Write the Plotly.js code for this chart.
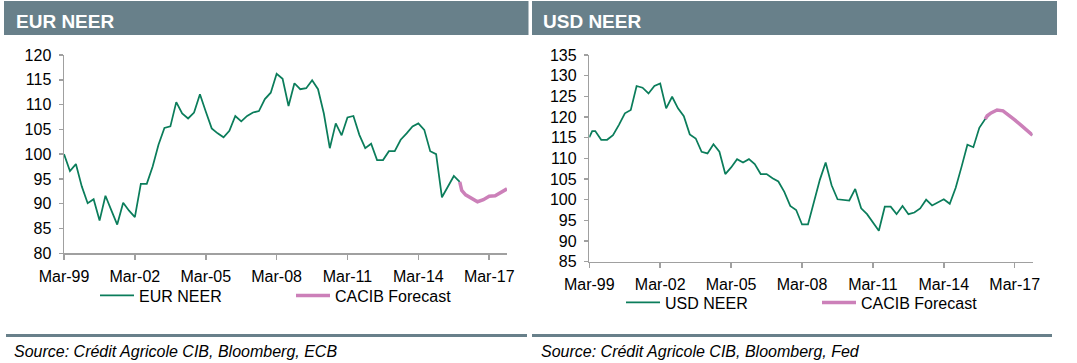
<!DOCTYPE html>
<html><head><meta charset="utf-8">
<script src="https://cdn.plot.ly/plotly-3.0.1.min.js"></script>
<style>html,body{margin:0;padding:0;background:#fff;overflow:hidden;}#chart{width:1077px;height:363px;}</style>
</head><body><div id="chart"></div>
<script>
const W = 1077, H = 363;

// ---- data (quarterly, first point Mar-99) ----
const eurNeer = [100.0, 96.6, 98.0, 93.5, 90.1, 90.9, 86.6, 91.6, 88.7, 85.8,
  90.2, 88.6, 87.3, 94.0, 94.0, 97.5, 101.9, 105.3, 105.6, 110.5,
  108.2, 107.2, 108.4, 112.1, 108.6, 105.2, 104.2, 103.4, 104.7, 107.7,
  106.6, 107.7, 108.4, 108.7, 111.1, 112.4, 116.2, 115.2, 109.7, 114.3,
  113.1, 113.3, 114.9, 113.1, 108.2, 101.2, 106.2, 103.8, 107.4, 107.7,
  103.9, 101.2, 102.1, 98.8, 98.8, 100.6, 100.6, 102.9, 104.2, 105.6,
  106.2, 104.9, 100.6, 100.0, 91.3, 93.5, 95.6, 94.4];
const forecastDates = ['2015-12-01', '2016-01-01', '2016-03-01', '2016-06-01', '2016-09-01',
  '2016-12-01', '2017-03-01', '2017-06-01', '2017-09-01', '2017-12-01'];
const eurForecast = [94.4, 92.7, 91.8, 91.0, 90.4, 90.8, 91.5, 91.6, 92.3, 93.0];

// USD has one extra intra-quarter point (Apr-99) after the first value
const usdExtraDate = '1999-04-15';
const usdNeer = [115.1, 116.6, 116.6, 114.5, 114.5, 115.6, 118.1, 120.9, 121.7, 127.5,
  127.1, 125.7, 127.5, 128.1, 122.1, 124.9, 122.1, 120.2, 115.8, 114.8,
  111.6, 111.2, 113.4, 111.6, 106.2, 107.8, 109.8, 109.0, 109.8, 108.6,
  106.2, 106.2, 105.2, 104.4, 101.9, 98.5, 97.5, 94.0, 94.0, 99.5,
  104.8, 109.0, 103.5, 100.1, 100.0, 99.8, 102.6, 97.9, 96.5, 94.5,
  92.5, 98.3, 98.3, 96.5, 98.5, 96.5, 96.9, 97.9, 100.0, 98.6,
  99.4, 100.1, 99.0, 102.9, 108.0, 113.3, 112.7, 117.4, 119.5];
const usdForecast = [119.5, 120.3, 121.0, 121.7, 121.5, 120.5, 119.3, 118.1, 116.9, 115.6];

const titles = ['EUR NEER', 'USD NEER'];
const sources = ['Source: Crédit Agricole CIB, Bloomberg, ECB', 'Source: Crédit Agricole CIB, Bloomberg, Fed'];
const seriesNames = ['EUR NEER', 'USD NEER', 'CACIB Forecast'];

function quarterDates(n) {
  const out = [];
  for (let i = 0; i < n; i++) {
    const mIdx = 2 + 3 * i; // March 1999 = index 2
    const y = 1999 + Math.floor(mIdx / 12);
    const m = (mIdx % 12) + 1;
    out.push(y + '-' + String(m).padStart(2, '0') + '-01');
  }
  return out;
}
const eurDates = quarterDates(eurNeer.length);
const usdDates = quarterDates(usdNeer.length - 1);
usdDates.splice(1, 0, usdExtraDate);

const GREEN = '#0b7d5b', PINK = '#cc80b9', BAR = '#68808a', AXC = '#a0a0a0';
const FONT = 'Liberation Sans, Arial, sans-serif';
const px = x => x / W, py = y => 1 - y / H;

const traces = [
  {x: eurDates, y: eurNeer, name: seriesNames[0], type: 'scatter', mode: 'lines',
   line: {color: GREEN, width: 1.75}, xaxis: 'x', yaxis: 'y', legend: 'legend'},
  {x: forecastDates, y: eurForecast, name: seriesNames[2], type: 'scatter', mode: 'lines',
   line: {color: PINK, width: 3.5}, xaxis: 'x', yaxis: 'y', legend: 'legend'},
  {x: usdDates.concat(forecastDates.slice(2)), y: usdNeer.concat(usdForecast.slice(2)), name: seriesNames[1], type: 'scatter', mode: 'lines',
   line: {color: GREEN, width: 1.75}, xaxis: 'x2', yaxis: 'y2', legend: 'legend2'},
  {x: forecastDates, y: usdForecast, name: seriesNames[2], type: 'scatter', mode: 'lines',
   line: {color: PINK, width: 3.5}, xaxis: 'x2', yaxis: 'y2', legend: 'legend2'}
];

function xax(domain, anchor) {
  return {domain: domain, anchor: anchor, type: 'date', range: ['1999-03-01', '2017-12-01'],
    tick0: '1999-03-01', dtick: 'M36', tickformat: '%b-%y',
    ticks: 'outside', ticklen: 5, tickwidth: 1.5, tickcolor: AXC,
    showline: true, linecolor: AXC, linewidth: 1.5, showgrid: false, zeroline: false,
    tickfont: {family: FONT, size: 16, color: '#000'}, ticklabelstandoff: 3, fixedrange: true};
}
function yax(domain, anchor, range) {
  return {domain: domain, anchor: anchor, range: range, tick0: range[0], dtick: 5,
    ticks: 'outside', ticklen: 4, tickwidth: 1.5, tickcolor: AXC,
    showline: true, linecolor: AXC, linewidth: 1.5, showgrid: false, zeroline: false,
    tickfont: {family: FONT, size: 16, color: '#000'}, ticklabelstandoff: 4, fixedrange: true};
}
function leg(x, y) {
  return {orientation: 'h', x: px(x), y: py(y), xanchor: 'left', yanchor: 'middle',
    font: {family: FONT, size: 16, color: '#000'}, bgcolor: 'rgba(0,0,0,0)', borderwidth: 0,
    entrywidth: 147, entrywidthmode: 'pixels', itemwidth: 34, traceorder: 'normal'};
}

const layout = {
  width: W, height: H, autosize: false,
  margin: {l: 0, r: 0, t: 0, b: 0, pad: 0},
  paper_bgcolor: '#fff', plot_bgcolor: 'rgba(0,0,0,0)',
  font: {family: FONT, size: 16, color: '#000'},
  xaxis: xax([px(64), px(507)], 'y'),
  yaxis: yax([py(253.3), py(55)], 'x', [80, 120]),
  xaxis2: xax([px(589.3), px(1032.5)], 'y2'),
  yaxis2: yax([py(261.7), py(55)], 'x2', [85, 135]),
  legend: leg(95, 295.5),
  legend2: leg(621, 302.5),
  shapes: [
    {type: 'rect', xref: 'paper', yref: 'paper', x0: px(4), x1: px(528.5), y0: py(35), y1: py(1), fillcolor: BAR, line: {width: 0}, layer: 'below'},
    {type: 'rect', xref: 'paper', yref: 'paper', x0: px(532), x1: px(1057), y0: py(35), y1: py(1), fillcolor: BAR, line: {width: 0}, layer: 'below'},
    {type: 'line', xref: 'paper', yref: 'paper', x0: px(6), x1: px(527), y0: py(335.5), y1: py(335.5), line: {color: BAR, width: 3}},
    {type: 'line', xref: 'paper', yref: 'paper', x0: px(532), x1: px(1052), y0: py(335.5), y1: py(335.5), line: {color: BAR, width: 3}}
  ],
  annotations: [
    {text: '<b>' + titles[0] + '</b>', xref: 'paper', yref: 'paper', x: px(14), y: py(21), xanchor: 'left', yanchor: 'middle', showarrow: false, font: {family: FONT, size: 19, color: '#fff'}},
    {text: '<b>' + titles[1] + '</b>', xref: 'paper', yref: 'paper', x: px(541), y: py(21), xanchor: 'left', yanchor: 'middle', showarrow: false, font: {family: FONT, size: 19, color: '#fff'}},
    {text: '<i>' + sources[0] + '</i>', xref: 'paper', yref: 'paper', x: px(12), y: py(351.5), xanchor: 'left', yanchor: 'middle', showarrow: false, font: {family: FONT, size: 16, color: '#000'}},
    {text: '<i>' + sources[1] + '</i>', xref: 'paper', yref: 'paper', x: px(539), y: py(351.5), xanchor: 'left', yanchor: 'middle', showarrow: false, font: {family: FONT, size: 16, color: '#000'}}
  ]
};

Plotly.newPlot('chart', traces, layout, {staticPlot: true, displayModeBar: false});
</script>
</body></html>
